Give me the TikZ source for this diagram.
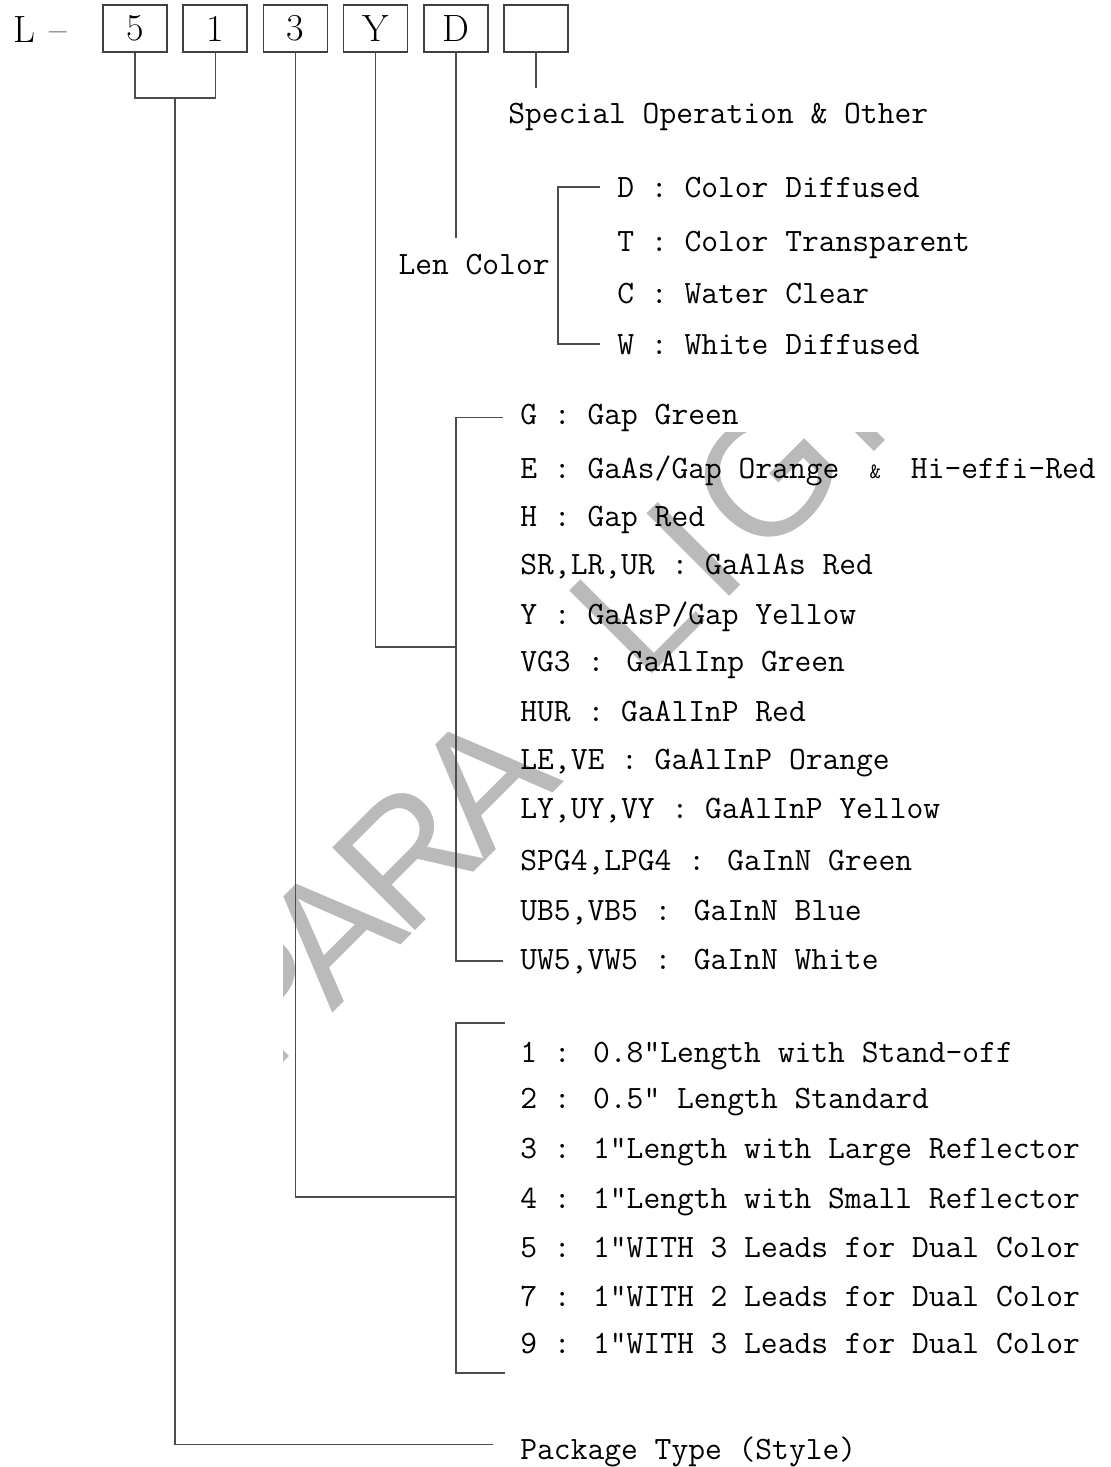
\documentclass[tikz,border=0pt]{standalone}
\usepackage{fontspec}
\usepackage{tikz}
\usetikzlibrary{positioning, calc}
\newfontfamily\wmtight[LetterSpace=-6]{Liberation Sans}
\newfontfamily\wmwide[LetterSpace=8]{Liberation Sans}
\newcommand{\txtfont}{\fontsize{16.3}{18}\selectfont\ttfamily}
\newcommand{\boxfont}{\fontsize{19}{20}\selectfont}
\newcommand{\smallamp}{\makebox[19pt][c]{\fontsize{11}{12}\selectfont\&}}

\begin{document}
\begin{tikzpicture}[
  x=0.5pt, y=-0.5pt,
  cell/.style={rectangle, draw=black!75, line width=0.8pt, minimum width=32pt, minimum height=23.5pt, inner sep=0pt, font=\boxfont},
  ln/.style={draw=black!70, line width=0.7pt},
  item/.style={anchor=base west, inner sep=0pt, font=\txtfont},
  wm/.style={text=black!27, inner sep=0pt, rotate=45, anchor=base west}
]
  \useasboundingbox (0,0) rectangle (1110,1467);

  % Watermark
  \begin{scope}
    \clip (283,432) rectangle (1110,1467);
    \node[wm, font=\wmtight\fontsize{85}{88}\selectfont] (wm1) at (268,1078) {PARA};
    \node[wm, font=\wmwide\fontsize{85}{88}\selectfont] (wm2) at (642,684) {LIGHT};
  \end{scope}

  % Part number boxes
  \node[anchor=base west, inner sep=0pt, font=\boxfont] (pre) at (13,42) {L\hspace{7pt}--};
  \foreach \c [count=\i from 0] in {5,1,3,Y,D,{}} {
    \node[cell] (b\i) at (135+80.2*\i, 28.5) {\c};
  }

  % Lens colour
  \node[item, anchor=base east] (lens) at (550,274) {Len Color};
  \foreach \y/\t [count=\i] in {197/{D : Color Diffused}, 251/{T : Color Transparent},
                               303/{C : Water Clear}, 354/{W : White Diffused}} {
    \node[item] (d\i) at (617,\y) {\t};
  }

  % Chip colour
  \foreach \y/\t [count=\i] in {424/{G : Gap Green},
      478/{E : GaAs/Gap Orange \smallamp{} Hi-effi-Red},
      526/{H : Gap Red}, 574/{SR,LR,UR : GaAlAs Red},
      624/{Y : GaAsP/Gap Yellow}, 671/{VG3 : GaAlInp Green},
      721/{HUR : GaAlInP Red}, 769/{LE,VE : GaAlInP Orange},
      818/{LY,UY,VY : GaAlInP Yellow}, 870/{SPG4,LPG4 : GaInN Green},
      920/{UB5,VB5 : GaInN Blue}, 969/{UW5,VW5 : GaInN White}} {
    \node[item] (c\i) at (520,\y) {\t};
  }

  % Package
  \foreach \y/\t [count=\i] in {1062/{1 : 0.8"Length with Stand-off},
      1108/{2 : 0.5" Length Standard},
      1158/{3 : 1"Length with Large Reflector},
      1208/{4 : 1"Length with Small Reflector},
      1257/{5 : 1"WITH 3 Leads for Dual Color},
      1306/{7 : 1"WITH 2 Leads for Dual Color},
      1353/{9 : 1"WITH 3 Leads for Dual Color}} {
    \node[item] (p\i) at (520,\y) {\t};
  }

  \node[item] (spec) at (508,123) {Special Operation \& Other};
  \node[item] (pkg) at (520,1459) {Package Type (Style)};

  % Brackets
  \coordinate (dbar) at (558,264);
  \coordinate (ybar) at (456,647);
  \coordinate (pbar) at (456,1197);
  \coordinate (j51) at (175,98);
  \draw[ln] ([xshift=-8.5pt]d1.west) -| (dbar) |- ([xshift=-8.5pt]d4.west);
  \draw[ln] ([xshift=-8.5pt]c1.west) -| (ybar) |- ([xshift=-8.5pt]c12.west);
  \draw[ln] (505,1023) -| (pbar) |- (505,1373);

  % Connectors from the boxes
  \draw[ln] (b0.south) -- (b0.south |- j51) -- (b1.south |- j51) -- (b1.south);
  \draw[ln] (j51) |- ([xshift=-13.5pt,yshift=3.5pt]pkg.west);
  \draw[ln] (b2.south) |- (pbar);
  \draw[ln] (b3.south) |- (ybar);
  \draw[ln] (b4.south) -- ++(0,185);
  \draw[ln] (b5.south) -- ++(0,35);
\end{tikzpicture}
\end{document}
